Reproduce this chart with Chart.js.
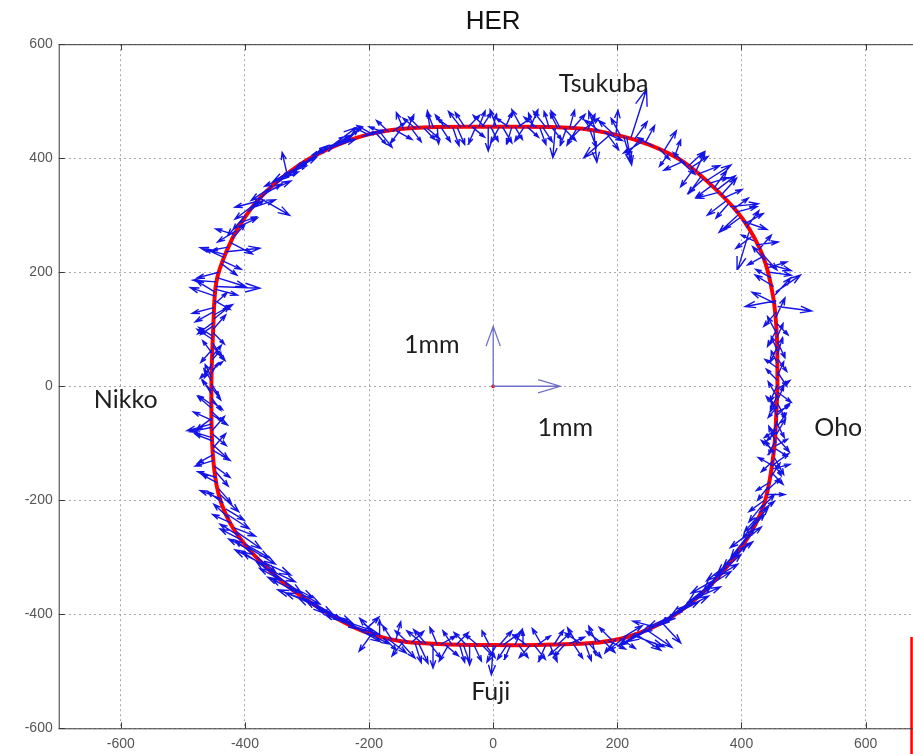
<!DOCTYPE html>
<html>
<head>
<meta charset="utf-8">
<script src="https://cdn.jsdelivr.net/npm/chart.js@4.4.1/dist/chart.umd.min.js"></script>
<style>
  html, body { margin: 0; padding: 0; background: #fff; overflow: hidden; }
  #wrap { position: relative; width: 986px; height: 754px; }
</style>
</head>
<body>
<div id="wrap"><canvas id="c"></canvas></div>
<script>
// ring (design orbit)
const ringX = [458, 457, 451, 435, 403, 360, 306, 253, 199, 129, 0, -129, -204, -274, -328, -376, -408, -430, -446, -451,
  -454, -452, -442, -419, -380, -327, -262, -209, -143, 0, 153, 219, 284, 350, 403, 436, 452, 457, 458];
const ringY = [0, 87, 157, 227, 292, 344, 394, 423, 441, 453, 455, 453, 441, 412, 376, 330, 283, 236, 183, 102,
  0, -115, -191, -249, -302, -354, -401, -430, -448, -454, -451, -439, -407, -349, -278, -208, -115, -27, 0];

// displacement arrows: base point (arrowX, arrowY) and vector (arrowU, arrowV)
// one line per stretch of the ring, first pass then second pass
const arrowX = [
  458, 456, 455, 452, 455, 457, 457, 458, 458, 458, 458, 458, 458, 458, 458, 458, 458, 458, 457, 457, 456, 455, 454, 453, 452,
  445, 440, 435, 428, 420, 412, 405, 398, 390, 382, 375, 367, 360, 352, 343, 335, 326, 318, 310, 300, 292, 283, 275, 266, 258,
  245, 235, 222, 215, 205, 198, 190, 182, 172, 162, 152, 140, 128, 118, 108, 100, 90, 80, 70, 60, 50, 40, 30, 20, 10,
  0, -8, -18, -28, -40, -52, -65, -78, -90, -102, -112, -125, -138, -150, -162, -175, -188, -200, -212, -225, -238, -250, -262,
  -270, -282, -295, -308, -320, -332, -344, -355, -366, -376, -386, -395, -403, -410, -417, -423, -430, -434, -438, -442, -444, -446, -447,
  -448, -449, -450, -450, -451, -451, -452, -452, -453, -453, -453, -454, -454, -454, -454, -454, -454, -454, -453, -453, -453, -453, -452, -452,
  -450, -447, -444, -440, -435, -428, -422, -414, -405, -396, -386, -376, -365, -353, -341, -329, -317, -303, -290, -276, -262, -248, -235, -222,
  -209, -196, -183, -170, -157, -145, -132, -120, -108, -97, -85, -72, -60, -48, -38, -25, -12, 0, 10, 22, 35, 48, 60, 72, 85, 98, 110, 122, 135, 148, 160, 172, 185, 198, 210,
  225, 235, 248, 260, 272, 284, 296, 308, 320, 332, 343, 354, 364, 374, 383, 392, 400, 408, 415, 422, 428, 434, 440, 444, 447, 450, 452,
  454, 456, 457, 457, 458, 458, 458, 458, 458, 458, 458, 458, 458, 458, 458, 458, 458, 457, 457, 456, 455, 454, 453, 452, 455,
  448, 443, 438, 432, 424, 416, 408, 401, 394, 386, 379, 371, 363, 356, 348, 339, 330, 322, 314, 305,
  240, 228, 210, 195, 178, 166, 156, 145, 134, 123, 113, 104, 95, 85, 75, 65, 55, 45, 35, 25, 15, 5, -4, -14, -23, -34, -46, -58, -70, -84, -96, -107, -118, -131, -144, -156, -168, -181, -194, -206,
  -256, -266, -276, -288, -301, -314, -326, -338, -350, -361, -371, -381, -391, -399, -407, -414, -420, -427, -432, -436,
  -447, -448, -449, -450, -450, -451, -451, -452, -452, -453, -453, -454, -454, -454, -454, -454, -454, -454, -453, -453, -453, -452, -452, -451, -451,
  -449, -446, -442, -437, -431, -425, -418, -410, -401, -391, -381, -371, -359, -347, -335, -323, -310, -297, -283, -269, -255, -242, -229, -216, -203,
  -190, -176, -163, -151, -138, -126, -114, -102, -90, -78, -66, -54, -43, -31, -18, -6, 5, 16, 28, 41, 54, 66, 78, 91, 104, 116, 129, 141, 154, 166, 178, 191, 204, 215, 230,
  242, 254, 266, 278, 290, 302, 314, 326, 337, 348, 359, 369, 379, 388, 396, 404, 412, 418, 425, 431, 437, 442, 446, 449, 451
];
const arrowY = [
  140, 150, 165, 175, 120, 100, 85, 70, 55, 40, 25, 10, -5, -15, -25, -35, -45, -55, -65, -75, -85, -95, -105, -120, -135,
  200, 215, 228, 240, 255, 270, 285, 296, 305, 315, 325, 335, 344, 352, 360, 368, 376, 383, 390, 397, 402, 408, 413, 418, 421,
  427, 431, 436, 438, 440, 442, 443, 445, 447, 448, 449, 451, 452, 452, 453, 453, 454, 454, 454, 455, 455, 455, 455, 455, 455,
  455, 455, 455, 455, 455, 454, 454, 454, 453, 453, 453, 452, 451, 449, 447, 445, 443, 441, 438, 434, 429, 424, 418,
  414, 406, 399, 390, 381, 372, 361, 351, 340, 330, 318, 306, 294, 280, 266, 252, 236, 226, 215, 200, 190, 183, 175,
  165, 150, 138, 125, 112, 100, 88, 76, 64, 52, 40, 28, 16, 4, -8, -20, -32, -44, -56, -66, -78, -90, -102, -112,
  -130, -150, -170, -190, -205, -225, -240, -255, -270, -282, -295, -306, -318, -329, -340, -352, -362, -372, -382, -391, -401, -409, -416, -423,
  -430, -435, -440, -443, -446, -448, -450, -451, -452, -453, -453, -454, -454, -454, -454, -454, -454, -454, -454, -454, -454, -454, -454, -453, -453, -453, -452, -452, -452, -451, -450, -448, -446, -443, -440,
  -437, -433, -428, -422, -415, -407, -398, -389, -378, -367, -356, -344, -332, -318, -305, -292, -280, -265, -250, -237, -222, -208, -190, -175, -160, -145, -130,
  160, 130, 110, 92, 78, 62, 48, 32, 18, 3, -10, -20, -30, -40, -50, -60, -70, -80, -90, -100, -110, -115, -125, -140, 145,
  190, 208, 220, 234, 248, 262, 278, 290, 300, 310, 320, 330, 340, 348, 356, 364, 372, 380, 386, 394,
  429, 434, 439, 441, 446, 447, 449, 450, 451, 452, 453, 453, 453, 454, 454, 454, 455, 455, 455, 455, 455, 455, 455, 455, 455, 455, 455, 454, 454, 454, 453, 453, 452, 451, 450, 448, 446, 444, 442, 439,
  421, 416, 410, 403, 394, 385, 376, 366, 356, 345, 335, 324, 312, 300, 287, 273, 259, 244, 231, 220,
  170, 158, 144, 131, 118, 106, 94, 82, 70, 58, 46, 34, 22, 10, -2, -14, -26, -38, -50, -60, -72, -84, -96, -108, -120,
  -140, -160, -180, -198, -215, -232, -248, -262, -276, -288, -300, -312, -323, -335, -346, -357, -367, -377, -387, -396, -405, -412, -420, -426, -432,
  -437, -441, -445, -447, -449, -450, -451, -452, -453, -453, -454, -454, -454, -454, -454, -454, -454, -454, -454, -454, -454, -454, -453, -453, -453, -452, -452, -451, -451, -449, -447, -445, -442, -438, -435,
  -430, -425, -418, -411, -402, -393, -383, -372, -361, -350, -338, -325, -311, -298, -286, -272, -258, -243, -230, -215, -200, -182, -168, -152, -138
];
const arrowU = [
  55, -50, 40, -30, 15, -15, 10, -12, 8, -10, 15, -18, 20, -12, 10, -15, 18, -10, 12, -20, 15, -12, 20, -15, 12,
  35, 40, -25, 20, -20, -18, 30, -25, 35, 45, -30, 25, 30, -25, 40, -20, 15, 28, -20, 25, 10, -15, 20, 18, -25,
  15, -20, 25, 8, -15, 3, -44, 20, -25, 5, 12, -18, 20, -10, -15, -4, -8, 15, -20, 12, -15, 20, -8, 10, -14,
  5, 0, 15, -12, 18, -20, 10, -15, 2, -4, 18, -20, 10, -15, 20, -25, 15, -22, 25, -30, 20, -35, 40,
  50, -30, 40, -35, 35, -8, 30, -35, 40, 48, -30, 25, -25, 30, -30, 35, 54, -30, 25, -35, 45, -38, 71,
  -30, 25, -35, 30, -25, 20, -22, 15, -18, 15, -12, 18, -10, 12, -15, 15, -20, 18, -25, -40, 20, -30, 25, 28,
  -30, 20, -25, 30, -25, 35, -30, 40, -35, 45, -30, 50, -40, 45, -35, 50, -40, 45, -45, 50, -40, 55, -35, 40,
  25, -20, 0, 30, 8, -18, 20, 15, -20, 0, 25, -15, 20, 10, 0, -20, 15, -3, 20, -15, 12, 0, -18, 20, -12, 15, -20, 25, -15, 10, 5, -22, 28, -18, 30,
  50, -30, 40, -35, 30, -45, 35, -40, 30, -45, 25, -40, 30, -35, 25, -30, 20, -25, 22, -20, 25, -22, 30, -18, 15, 28, -20,
  25, -20, 18, -15, 12, -10, 15, -20, 10, -12, 22, -15, 12, -18, 20, -10, 14, -16, 20, -12, 18, -22, 15, -25, -38,
  -25, 30, -20, 25, 35, -25, 20, 40, -30, 25, -20, 30, -35, 20, 30, -25, 35, -20, 25, -30,
  -30, 20, 12, -25, 30, -12, 10, 25, -15, 8, 20, -12, 15, -20, 10, -8, 18, -15, 12, -20, 15, -10, 12, -18, 10, 20, -15, 12, -20, 15, -10, 20, -18, 15, -12, 25, -20, 18, -25, 30,
  30, -25, 45, -30, 35, -40, 25, -30, 35, -25, 30, -35, 40, -20, 25, -30, 20, -25, -40, 30,
  35, -40, 20, -30, 25, -20, 18, -25, 20, -15, 12, -18, 10, -12, 15, -14, 18, -22, 25, -30, -35, 22, -28, 20, -25,
  25, -30, 20, -35, 30, -25, 35, -30, 40, -35, 30, -45, 40, -35, 45, -40, 35, -50, 40, -45, 35, -40, 45, -30, 35,
  -25, 20, -15, 25, -20, 10, -25, 18, -12, 22, -15, 8, -20, 12, 18, -12, -15, 25, -10, 15, -22, 18, -15, 12, 20, -18, 15, -25, 20, -12, 18, -20, 25, -30, 40,
  -40, 35, -50, 30, -40, 45, -35, 40, -30, 35, -40, 30, -35, 30, -25, 28, -30, 25, -20, 22, -25, 20, -22, 18, 25
];
const arrowV = [
  -8, -10, 30, 20, 35, -30, 25, -28, 30, 22, -25, 20, 15, -30, 25, -20, 10, 30, -25, -15, 28, -25, 12, 25, -22,
  -5, -12, -15, 25, 10, -65, 18, -20, 10, 5, -25, 30, 25, -20, 28, -30, 35, 20, 20, -25, 30, -22, 35, -20, 15,
  30, -25, 85, -50, 30, 42, -42, -30, 20, -55, 28, -20, 25, -30, 30, -52, 28, -25, 18, 30, -25, 15, -30, 25, -28,
  22, -42, 25, -30, 20, 28, -32, 22, -28, 30, -20, 18, 25, -22, 15, 10, -18, 12, 8, -10, 20, -15, 15,
  40, -20, 25, -28, 20, 38, 15, -25, 20, -30, -25, 20, -30, 15, 10, -20, 6, 15, -20, -10, -15, 3, -3,
  20, -15, -10, 18, -20, 25, 15, -25, -22, 20, -25, 15, 22, -20, 18, -22, 15, -18, -20, -12, 25, 10, -25, -18,
  -10, -25, 15, -30, 20, -25, 15, -30, 20, -30, 25, -25, 28, -35, 20, -30, 25, -28, 20, -25, 25, -20, 15, -25,
  25, -30, 30, -25, 33, -25, 20, -35, 25, -41, 15, -28, 22, -30, -35, 18, -22, -52, 25, -25, 28, 24, -22, 15, -30, 25, -20, 12, 28, -30, -21, 18, -15, -25, 20,
  -20, -20, -30, 10, -35, -25, 20, -30, 25, -35, 30, -35, 20, -40, 25, -35, 30, -35, 25, -30, 20, -30, 0, -25, 25, 8, -20,
  30, -25, -20, 30, -28, 25, -22, 15, 25, -30, -18, 28, -25, 22, 20, -28, 22, -15, -25, 30, -12, 20, -30, 15, 20,
  15, 10, 25, -30, 5, -20, 30, -15, -30, 20, -25, 15, -10, 30, 10, -25, 15, -30, 25, -15,
  -20, 30, -45, 25, -15, 35, -30, 20, -28, 32, -22, 25, -20, 28, -30, 25, -18, 30, -22, 15, -28, 30, -25, 20, 28, -18, 25, -30, 15, -25, 28, -18, 20, -22, 30, -15, 20, -25, 15, 10,
  20, -10, 30, -20, 28, -25, 10, -15, 25, -28, 20, -10, 15, -25, 10, -20, 25, -5, 12, -15,
  -10, 15, 20, -18, 22, -15, -20, 18, -25, 22, 15, -20, 18, 20, -22, 25, -15, 20, -18, 15, -8, -20, 12, 25, -15,
  -20, 10, -25, 15, -20, 25, -15, 20, -25, 20, -25, 25, -20, 28, -25, 22, -30, 20, -25, 25, -20, 22, -15, 20, -20,
  30, -22, 25, -30, 20, -35, 22, -25, 30, -20, 25, -30, 22, -28, -20, 25, -30, 20, -25, -22, 18, -25, 28, -30, 20, -22, -25, 18, -25, 28, -20, 22, -18, -25, -28,
  -25, 20, -30, 25, -20, 25, -30, 20, -30, 25, -25, 30, -30, 25, -30, 25, -25, 30, -25, 25, -20, 20, -15, -20, 20
];

// 1mm scale arrows at the origin
const scaleX = [0, 0];
const scaleY = [0, 0];
const scaleU = [108, 0];
const scaleV = [0, 105];

// station names and scale labels
const labelText = ['Tsukuba', 'Nikko', '1mm', '1mm', 'Oho', 'Fuji'];
const labelX = [178, -592, -99, 116, 556, -4];
const labelY = [530, -24, 72, -73, -73, -536];

const xTickValues = [-600, -400, -200, 0, 200, 400, 600];
const yTickValues = [-600, -400, -200, 0, 200, 400, 600];

// red edge mark at the right border of the picture
const edgeX = [674, 674];
const edgeY = [-440, -670];

// quiver: shaft plus MATLAB-style head, gaps split the lines
const quiverPoints = (xs, ys, us, vs) => {
  const a = 0.33, b = 0.33;
  const pts = [];
  const n = Math.min(xs.length, ys.length, us.length, vs.length);
  for (let i = 0; i < n; i++) {
    const x = xs[i], y = ys[i], u = us[i], v = vs[i];
    const tx = x + u, ty = y + v;
    pts.push({x: x, y: y}, {x: tx, y: ty}, {x: null, y: null});
    pts.push({x: tx - a * (u + b * v), y: ty - a * (v - b * u)});
    pts.push({x: tx, y: ty});
    pts.push({x: tx - a * (u - b * v), y: ty - a * (v + b * u)}, {x: null, y: null});
  }
  return pts;
};

const framePlugin = {
  id: 'frame',
  afterDraw(chart) {
    const {ctx, chartArea: area, scales} = chart;
    ctx.save();
    ctx.strokeStyle = '#3a3a3a';
    ctx.lineWidth = 1;
    ctx.strokeRect(area.left + 0.5, area.top + 0.5, area.right - area.left, area.bottom - area.top);
    ctx.beginPath();
    xTickValues.forEach(v => {
      const px = Math.round(scales.x.getPixelForValue(v)) + 0.5;
      ctx.moveTo(px, area.bottom); ctx.lineTo(px, area.bottom - 6);
      ctx.moveTo(px, area.top); ctx.lineTo(px, area.top + 6);
    });
    yTickValues.forEach(v => {
      const py = Math.round(scales.y.getPixelForValue(v)) + 0.5;
      ctx.moveTo(area.left, py); ctx.lineTo(area.left + 6, py);
      ctx.moveTo(area.right, py); ctx.lineTo(area.right - 6, py);
    });
    ctx.stroke();

    ctx.fillStyle = '#1e1e1e';
    ctx.font = '25px Lato';
    ctx.textAlign = 'center';
    ctx.textBaseline = 'middle';
    labelText.forEach((t, i) => {
      ctx.fillText(t, scales.x.getPixelForValue(labelX[i]), scales.y.getPixelForValue(labelY[i]));
    });
    ctx.restore();
  }
};

const toPoints = (xs, ys) => xs.map((x, i) => ({x: x, y: ys[i]}));

new Chart(document.getElementById('c'), {
  type: 'line',
  data: {
    datasets: [
      {
        label: 'displacement',
        data: quiverPoints(arrowX, arrowY, arrowU, arrowV),
        borderColor: '#1414e6',
        borderWidth: 1.4,
        pointRadius: 0,
        spanGaps: false,
        tension: 0,
      },
      {
        label: 'ring',
        data: toPoints(ringX, ringY),
        borderColor: '#ff0000',
        borderWidth: 4,
        pointRadius: 0,
        tension: 0.35,
      },
      {
        label: 'scale',
        data: quiverPoints(scaleX, scaleY, scaleU, scaleV),
        borderColor: '#6e6ec8',
        borderWidth: 1.3,
        pointRadius: 0,
        spanGaps: false,
        tension: 0,
      },
      {
        label: 'origin',
        data: [{x: 0, y: 0}],
        showLine: false,
        pointRadius: 1.5,
        pointBackgroundColor: '#ff0000',
        pointBorderColor: '#ff0000',
      },
      {
        label: 'edge',
        data: toPoints(edgeX, edgeY),
        borderColor: '#ff0000',
        borderWidth: 2.5,
        pointRadius: 0,
        clip: false,
      },
    ],
  },
  options: {
    responsive: true,
    maintainAspectRatio: false,
    animation: false,
    layout: { padding: { left: 0, right: 58.3, top: 0, bottom: 0 } },
    plugins: {
      legend: { display: false },
      tooltip: { enabled: false },
      title: {
        display: true,
        fullSize: false,
        text: 'HER',
        color: '#111',
        font: { family: 'Liberation Sans', size: 26, weight: 'normal' },
        padding: { top: 6, bottom: 7 },
      },
    },
    scales: {
      x: {
        type: 'linear',
        min: -700,
        max: 700,
        afterBuildTicks: scale => { scale.ticks = xTickValues.map(v => ({value: v})); },
        afterFit: scale => { scale.height = 25.7; },
        grid: { color: '#a8a8a8', lineWidth: 1, drawTicks: false },
        border: { display: false, dash: [2, 3] },
        ticks: { color: '#555', padding: 7, font: { family: 'Liberation Sans', size: 14 }, maxRotation: 0 },
      },
      y: {
        type: 'linear',
        min: -600,
        max: 600,
        afterBuildTicks: scale => { scale.ticks = yTickValues.map(v => ({value: v})); },
        afterFit: scale => { scale.width = 58.7; },
        grid: { color: '#a8a8a8', lineWidth: 1, drawTicks: false },
        border: { display: false, dash: [2, 3] },
        ticks: { color: '#555', padding: 6, font: { family: 'Liberation Sans', size: 14 } },
      },
    },
  },
  plugins: [framePlugin],
});
</script>
</body>
</html>
